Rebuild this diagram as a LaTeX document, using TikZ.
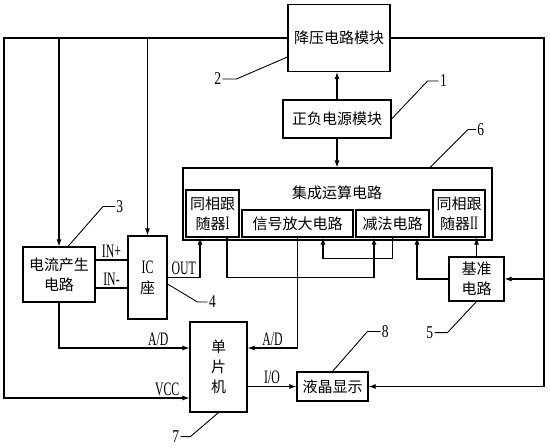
\documentclass[tikz,border=0pt]{standalone}
\usepackage{fontspec}
\setmainfont{Liberation Serif}[FakeStretch=0.62]
\newfontfamily\numfont{Liberation Serif}[FakeStretch=0.75]
\newfontfamily\cjk{Noto Sans CJK SC}
\usetikzlibrary{arrows.meta,positioning,calc}

\begin{document}
\begin{tikzpicture}
[x=1pt,y=-1pt%
,every node/.style={inner sep=0pt,%
                    font=\fontsize{19}{20}\selectfont}%
,blk/.style={draw,%
             line width=1.1pt,%
             align=center,%
             font=\cjk\fontsize{15}{20}\selectfont}%
,arr/.style={line width=1.1pt,%
             -{Latex[length=7pt,width=5pt]}}%
,wire/.style={line width=1.1pt}%
,lead/.style={line width=0.9pt}%
,tag/.style={font=\numfont\fontsize{18}{18}\selectfont}]
\useasboundingbox (0,0) rectangle (550,448);
% blocks
\node[blk,minimum width=102,minimum height=67] (jiangya) at (339,38) {降压电路模块};
\node[blk,minimum width=108,minimum height=38] (zhengfu) at (337,119) {正负电源模块};
\node[blk,minimum width=309,minimum height=72] (jicheng) at (337.5,204) {};
\node[font=\cjk\fontsize{15}{20}\selectfont] (jctitle) at (337,193) {集成运算电路};
\node[blk,minimum width=53,minimum height=47] (gen1) at (212.5,213.5) {同相跟\\随器{\rmfamily\fontsize{19}{20}\selectfont I}};
\node[blk,minimum width=111,minimum height=27] (xinhao) at (297.5,223.5) {信号放大电路};
\node[blk,minimum width=73,minimum height=27] (jianfa) at (392.5,223.5) {减法电路};
\node[blk,minimum width=52,minimum height=47] (gen2) at (459,213.5) {同相跟\\随器{\rmfamily\fontsize{19}{20}\selectfont II}};
\node[blk,minimum width=72,minimum height=55] (dianliu) at (59,274.5) {电流产生\\电路};
\node[blk,minimum width=39,minimum height=83] (ic) at (147.5,277.5) {{\rmfamily\fontsize{19}{20}\selectfont IC}\\座};
\node[blk,minimum width=55,minimum height=44] (jizhun) at (476.5,279) {基准\\电路};
\node[blk,minimum width=57,minimum height=90] (danpian) at (218.5,367) {单\\片\\机};
\node[blk,minimum width=71,minimum height=29] (yejing) at (332.5,386.5) {液晶显示};
% supply rails
\coordinate (tl) at (4,38);
\coordinate (tr) at (544,38);
\draw[arr] (jiangya.west) -- (tl) |- node[above=2pt,pos=0.94] {VCC} ([yshift=-31pt]danpian.west);
\draw[arr] (dianliu.north |- tl) -- (dianliu.north);
\draw[arr] (ic.north |- tl) -- (ic.north);
\draw[arr] (jiangya.east) -- (tr) |- (yejing.east);
\draw[arr] (tr |- jizhun.east) -- (jizhun.east);
\draw[arr] (zhengfu.north) -- (zhengfu.north |- jiangya.south);
\draw[arr] (zhengfu.south) -- (zhengfu.south |- jicheng.north);
% signal paths
\draw[wire] ([yshift=14.5pt]dianliu.east) -- node[above=2pt] {IN+} ([yshift=14.5pt]dianliu.east -| ic.west);
\draw[wire] ([yshift=-13.5pt]dianliu.east) -- node[above=2pt] {IN-} ([yshift=-13.5pt]dianliu.east -| ic.west);
\draw[arr] (ic.east) -| node[above=2pt,pos=0.25] {OUT} ([xshift=-12.5pt]gen1.south);
\draw[arr] ([xshift=14.5pt]gen1.south) -- ++(0,39.5) -| ([xshift=-18.5pt]jianfa.south);
\draw[arr] (jianfa.south) -- ++(0,21) -| ([xshift=25.5pt]xinhao.south);
\draw[arr] (xinhao.south) |- node[above=2pt,pos=0.75] {A/D} ([yshift=19pt]danpian.east);
\draw[arr] (dianliu.south) |- node[above=2pt,pos=0.88] {A/D} ([yshift=19pt]danpian.west);
\draw[arr] (jizhun.west) -| ([xshift=24.5pt]jianfa.south);
\draw[arr] (jizhun.north) -- (jizhun.north |- gen2.south);
\draw[arr] (yejing.west -| danpian.east) -- node[above=2pt] {I/O} (yejing.west);
% callouts
\draw[lead] (zhengfu.east) -- ++(36,-38) -- ++(11,0) node[tag,right=1pt] (n1) {1};
\draw[lead] ([yshift=-19pt]jiangya.west) -- ++(-51,22) -- ++(-14,0) node[tag,left=1pt] (n2) {2};
\draw[lead] ([xshift=9pt]dianliu.north) -- ++(35,-40) -- ++(12,0) node[tag,right=1pt] (n3) {3};
\draw[lead] ([yshift=-6.5pt]ic.east) -- ++(30,18) -- ++(10,0) node[tag,right=1pt] (n4) {4};
\draw[lead] (jizhun.south) -- ++(-29,31) -- ++(-13,0) node[tag,left=1pt] (n5) {5};
\draw[lead] ([xshift=92.5pt]jicheng.north) -- ++(38,-38) -- ++(8,0) node[tag,right=1pt] (n6) {6};
\draw[lead] (danpian.south) -- ++(-28,24) -- ++(-10,0) node[tag,left=1pt] (n7) {7};
\draw[lead] (yejing.north) -- ++(35,-40) -- ++(13,0) node[tag,right=1pt] (n8) {8};
\end{tikzpicture}
\end{document}
